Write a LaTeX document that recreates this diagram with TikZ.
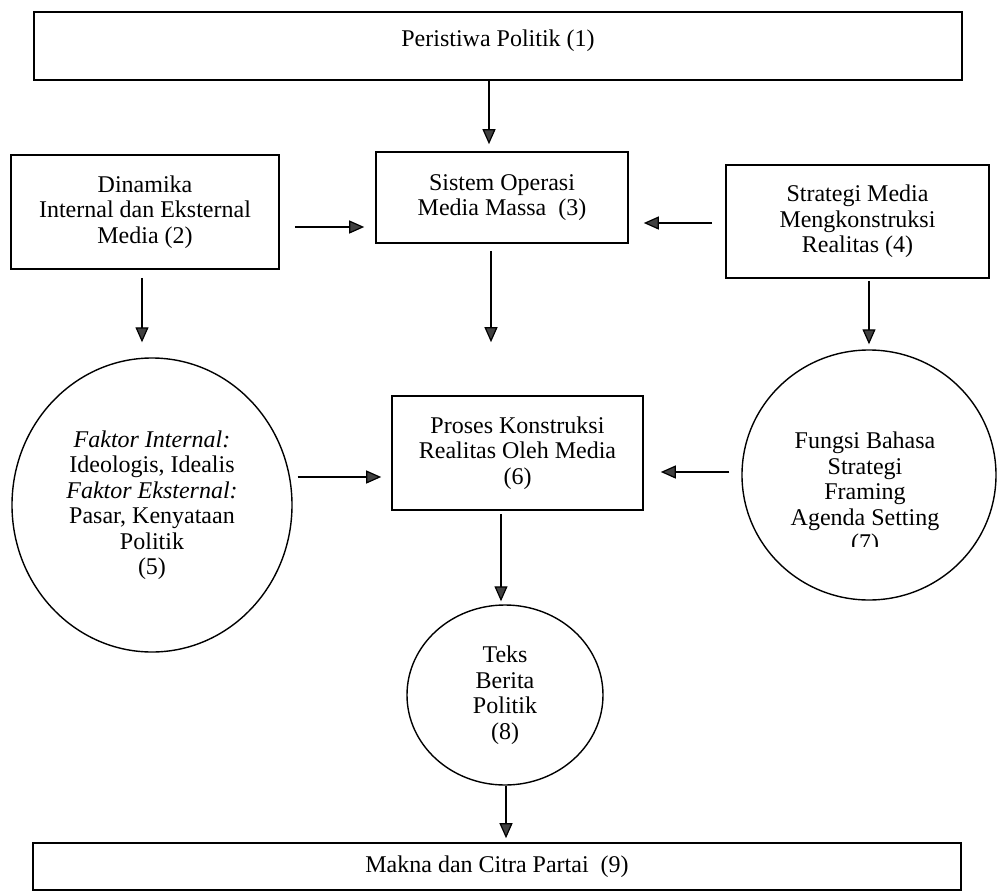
\documentclass[tikz,border=0pt]{standalone}
\usepackage{fontspec}
\setmainfont{Liberation Serif}
\usetikzlibrary{arrows.meta,shapes.geometric}
\begin{document}
\begin{tikzpicture}[x=1pt,y=-1pt,
  txt/.style={font=\fontsize{24}{25.5}\selectfont,align=center},
  box/.style={txt,draw,line width=1.6pt,rectangle,inner sep=0pt},
  oval/.style={txt,draw,line width=1.4pt,ellipse,inner sep=0pt},
  arr/.style={line width=1.2pt,-{Triangle[length=15pt,width=13pt,fill=black!75]}}
]
\useasboundingbox (0,0) rectangle (997,892);
% boxes
\node[box,minimum width=928pt,minimum height=68pt,text depth=16pt] (b1) at (498,46) {Peristiwa Politik (1)};
\node[box,minimum width=268pt,minimum height=114pt] (b2) at (145,212) {Dinamika\\Internal dan Eksternal\\Media (2)};
\node[box,minimum width=252pt,minimum height=91pt] (b3) at (502,197.5) {Sistem Operasi\\Media Massa\ \ (3)};
\node[box,minimum width=263pt,minimum height=113pt] (b4) at (857.5,221.5) {Strategi Media\\Mengkonstruksi\\Realitas (4)};
\node[box,minimum width=251pt,minimum height=114pt] (b6) at (517.5,453) {Proses Konstruksi\\Realitas Oleh Media\\(6)};
\node[box,minimum width=928pt,minimum height=47pt] (b9) at (497,866.5) {Makna dan Citra Partai\ \ (9)};
% ovals
\node[oval,minimum width=280pt,minimum height=294pt] (c5) at (152,505) {\textit{Faktor Internal:}\\Ideologis, Idealis\\\textit{Faktor Eksternal:}\\Pasar, Kenyataan\\Politik\\(5)};
\node[oval,minimum width=254pt,minimum height=250pt] (c7) at (869,475) {};
\begin{scope}
\clip (700,300) rectangle (997,546);
\node[txt] (t7) at (865,494) {Fungsi Bahasa\\Strategi\\Framing\\Agenda Setting\\(7)};
\end{scope}
\node[oval,minimum width=196pt,minimum height=180pt] (c8) at (505,695) {Teks\\Berita\\Politik\\(8)};
% helper coordinates for connector lines
\coordinate (x13) at (489,0);
\coordinate (y23) at (0,227);
\coordinate (y43) at (0,223);
\coordinate (x36) at (491,0);
\coordinate (x25) at (142,0);
\coordinate (x47) at (869,0);
\coordinate (y56) at (0,477);
\coordinate (y76) at (0,472);
\coordinate (x68) at (501,0);
\coordinate (x89) at (506,0);
% connectors
\draw[arr,shorten >=7pt] (b1.south -| x13) -- (b3.north -| x13);
\draw[arr,shorten <=15pt,shorten >=11pt] (b2.east |- y23) -- (b3.west |- y23);
\draw[arr,shorten <=13pt,shorten >=15pt] (b4.west |- y43) -- (b3.east |- y43);
\draw[arr,shorten <=7pt,shorten >=53pt] (b3.south -| x36) -- (b6.north -| x36);
\draw[arr,shorten <=8pt,shorten >=15pt] (b2.south -| x25) -- (c5.north -| x25);
\draw[arr,shorten <=2pt,shorten >=5pt] (b4.south -| x47) -- (c7.north -| x47);
\draw[arr,shorten <=5pt,shorten >=10pt] (c5.east |- y56) -- (b6.west |- y56);
\draw[arr,shorten <=12pt,shorten >=17pt] (c7.west |- y76) -- (b6.east |- y76);
\draw[arr,shorten <=3pt,shorten >=3pt] (b6.south -| x68) -- (c8.north -| x68);
\draw[arr,shorten >=4pt] (c8.south -| x89) -- (b9.north -| x89);
\end{tikzpicture}
\end{document}
